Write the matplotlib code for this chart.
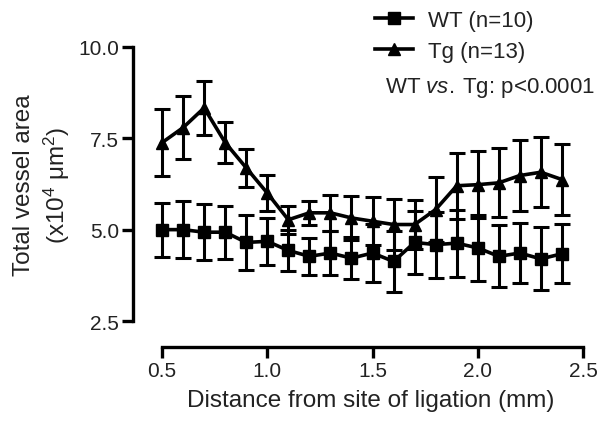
import numpy as np
import matplotlib
matplotlib.use("Agg")
import matplotlib.pyplot as plt
from matplotlib.lines import Line2D

plt.rcParams["font.family"] = ["Liberation Sans", "DejaVu Sans"]
plt.rcParams["mathtext.fontset"] = "custom"
plt.rcParams["mathtext.rm"] = "Liberation Sans"
plt.rcParams["mathtext.it"] = "Liberation Sans:italic"

# distance from ligation site (mm)
distance = [0.5, 0.6, 0.7, 0.8, 0.9, 1.0, 1.1, 1.2, 1.3, 1.4,
            1.5, 1.6, 1.7, 1.8, 1.9, 2.0, 2.1, 2.2, 2.3, 2.4]

wt_mean = [5.00, 5.00, 4.93, 4.93, 4.65, 4.68, 4.43, 4.27, 4.36, 4.22,
           4.36, 4.13, 4.65, 4.59, 4.63, 4.50, 4.27, 4.36, 4.20, 4.34]
wt_sem = [0.74, 0.78, 0.76, 0.72, 0.76, 0.65, 0.57, 0.50, 0.59, 0.57,
          0.79, 0.83, 0.85, 0.90, 0.92, 0.90, 0.85, 0.83, 0.86, 0.81]

tg_mean = [7.38, 7.79, 8.33, 7.38, 6.69, 6.00, 5.27, 5.46, 5.46, 5.32,
           5.23, 5.14, 5.14, 5.55, 6.20, 6.23, 6.28, 6.48, 6.57, 6.37]
tg_sem = [0.91, 0.87, 0.74, 0.57, 0.52, 0.50, 0.38, 0.32, 0.50, 0.60,
          0.66, 0.71, 0.68, 0.90, 0.90, 0.92, 0.94, 0.98, 0.96, 0.98]

txt = "#222222"

fig = plt.figure(figsize=(6.13, 4.27), dpi=100)
ax = fig.add_axes([0.217, 0.185, 0.734, 0.703])

ax.errorbar(distance, wt_mean, yerr=wt_sem, color="black", lw=2.6,
            marker="s", ms=8, capsize=6, capthick=2.2, elinewidth=2.2)
ax.errorbar(distance, tg_mean, yerr=tg_sem, color="black", lw=2.6,
            marker="^", ms=8, capsize=6, capthick=2.2, elinewidth=2.2)

ax.set_xlim(0.362, 2.5)
ax.set_ylim(1.79, 10.0)
ax.set_xticks([0.5, 1.0, 1.5, 2.0, 2.5])
ax.set_yticks([2.5, 5.0, 7.5, 10.0])
ax.set_xticklabels(["0.5", "1.0", "1.5", "2.0", "2.5"])
ax.set_yticklabels(["2.5", "5.0", "7.5", "10.0"])

for s in ["top", "right"]:
    ax.spines[s].set_visible(False)
ax.spines["left"].set_bounds(2.5, 10.0)
ax.spines["bottom"].set_bounds(0.5, 2.5)
ax.spines["left"].set_linewidth(2.4)
ax.spines["bottom"].set_linewidth(2.4)
ax.tick_params(width=2.4, length=8, labelsize=15, colors="black",
               labelcolor=txt, pad=2)

ax.set_xlabel("Distance from site of ligation (mm)", fontsize=17.5,
              color=txt)
ax.xaxis.set_label_coords(0.529, -0.14)
ax.set_ylabel("Total vessel area\n(x10$^4$ \u03bcm$^2$)", fontsize=17.5,
              color=txt, linespacing=1.3)
ax.yaxis.set_label_coords(-0.136, 0.543)

handles = [Line2D([], [], color="black", lw=2.6, marker="s", ms=8),
           Line2D([], [], color="black", lw=2.6, marker="^", ms=8)]
fig.legend(handles, ["WT (n=10)", "Tg (n=13)"], loc="upper left",
           bbox_to_anchor=(0.612, 0.975), frameon=False, fontsize=16,
           handlelength=1.7, handletextpad=0.7, labelspacing=0.45,
           borderpad=0, borderaxespad=0, labelcolor=txt)
fig.text(0.628, 0.794, "WT $\\it{vs.}$\u2009Tg: p<0.0001", fontsize=16,
         color=txt, va="center")

fig.savefig("out.png", dpi=100)
